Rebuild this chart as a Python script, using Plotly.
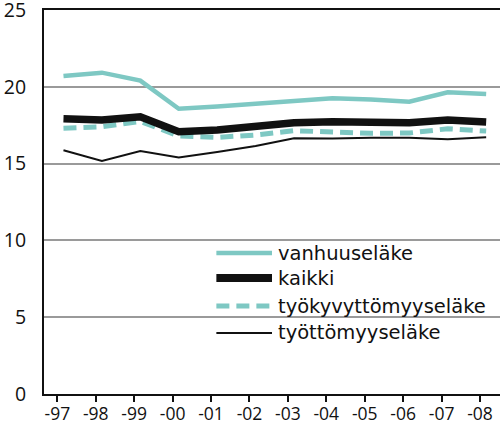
import plotly.graph_objects as go

years = [1997, 1998, 1999, 2000, 2001, 2002, 2003, 2004, 2005, 2006, 2007, 2008]
tick_labels = ["-97", "-98", "-99", "-00", "-01", "-02", "-03", "-04", "-05", "-06", "-07", "-08"]

vanhuuselake = [20.70, 20.92, 20.40, 18.57, 18.71, 18.88, 19.10, 19.25, 19.18, 19.03, 19.64, 19.53]
kaikki = [17.92, 17.84, 18.05, 17.08, 17.19, 17.40, 17.66, 17.73, 17.66, 17.66, 17.84, 17.71]
tyokyvyttomyyselake = [17.30, 17.40, 17.75, 16.80, 16.71, 16.86, 17.14, 17.03, 16.97, 16.99, 17.27, 17.12]
tyottomyyselake = [15.87, 15.17, 15.82, 15.40, 15.75, 16.15, 16.65, 16.63, 16.68, 16.68, 16.58, 16.71]

series_names = ["vanhuuseläke", "kaikki", "työkyvyttömyyseläke", "työttömyyseläke"]

TEAL = "#7ec8c3"
BLACK = "#111111"
FONT = "Open Sans"
LEG_FONT = "DejaVu Sans"
OFFSET = 0.16  # data points sit slightly right of year ticks

xs = [y + OFFSET for y in years]

fig = go.Figure()
styles = [
    dict(color=TEAL, width=4.5),
    dict(color=BLACK, width=7.5),
    dict(color=TEAL, width=5, dash="13px,7px"),
    dict(color=BLACK, width=2),
]
data = [vanhuuselake, kaikki, tyokyvyttomyyselake, tyottomyyselake]
for i in [3, 0, 2, 1]:
    fig.add_trace(go.Scatter(x=xs, y=data[i], mode="lines", name=series_names[i],
                             line=dict(shape="linear", **styles[i]), showlegend=False,
                             hoverinfo="skip"))

shapes = []
annotations = []
# legend box (white, hides gridlines)
shapes.append(dict(type="rect", xref="paper", yref="paper", x0=0.3268, x1=0.989, y0=0.12, y1=0.432,
                   fillcolor="white", line=dict(width=0), layer="between"))
leg_y = [0.367, 0.302, 0.229, 0.159]
for i in range(4):
    st = styles[i]
    ln = dict(color=st["color"], width=st["width"] + (0.5 if i == 1 else 0))
    if "dash" in st:
        ln["dash"] = st["dash"]
    shapes.append(dict(type="line", xref="paper", yref="paper", x0=0.378, x1=0.5,
                       y0=leg_y[i], y1=leg_y[i], line=ln, layer="above"))
    annotations.append(dict(xref="paper", yref="paper", x=0.509, y=leg_y[i], text=series_names[i],
                            showarrow=False, xanchor="left", yanchor="middle",
                            font=dict(family=LEG_FONT, size=19.5, color="#111")))

fig.update_layout(
    width=500, height=423,
    margin=dict(l=44, r=0, t=10, b=29, autoexpand=False),
    paper_bgcolor="white", plot_bgcolor="white",
    shapes=shapes, annotations=annotations,
    font=dict(family=FONT, size=18, color="#111"),
    xaxis=dict(range=[1996.653, 2008.52], tickmode="array", tickvals=years, ticktext=tick_labels,
               showgrid=False, showline=True, linecolor="#111", linewidth=2, mirror=True,
               ticks="outside", ticklen=6, tickwidth=1.5, tickcolor="#111",
               ticklabelstandoff=-3, ticklabeloverflow="allow",
               tickfont=dict(family=FONT, size=17.5, color="#111"), zeroline=False,
               automargin=False),
    yaxis=dict(range=[0, 25], tickmode="array", tickvals=[0, 5, 10, 15, 20, 25],
               showgrid=True, gridcolor="#9a9a9a", gridwidth=2,
               showline=True, linecolor="#111", linewidth=2, ticks="",
               ticklabelstandoff=12, ticklabeloverflow="allow",
               tickfont=dict(family=FONT, size=19.5, color="#111"),
               zeroline=False, automargin=False),
)

fig.write_html("out.html", config={"displayModeBar": False},
               post_script="document.body.style.margin='0';document.body.style.overflow='hidden';")
